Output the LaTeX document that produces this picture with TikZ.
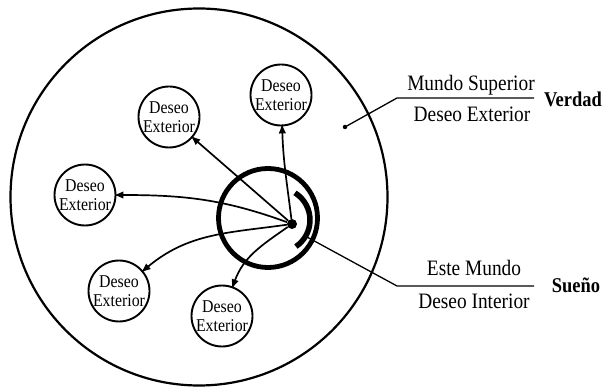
\documentclass[tikz,border=0pt]{standalone}
\usepackage{fontspec}
\setmainfont{Liberation Serif}[FakeStretch=0.88]
\usetikzlibrary{arrows.meta}
\begin{document}
\begin{tikzpicture}[x=1pt,y=1pt,
  desire/.style={circle, draw, line width=1.9pt, minimum size=61pt, inner sep=0pt, align=center, font=\fontsize{18}{19}\selectfont},
  arr/.style={line width=1.7pt, -{Latex[length=10pt,width=7.5pt]}, shorten >=-3pt},
  thin/.style={line width=1.3pt},
  lbl/.style={font=\fontsize{22}{24}\selectfont, anchor=base, inner sep=0pt},
  blbl/.style={font=\bfseries\fontsize{21}{24}\selectfont, anchor=base, inner sep=0pt}]
\useasboundingbox (0,0) rectangle (607,-387);
% outer world
\node[circle, draw, line width=2.2pt, minimum size=377pt, inner sep=0pt] (world) at (199,-197) {};
% inner self
\node[circle, draw, line width=4.8pt, minimum size=99pt, inner sep=0pt] (self) at (268,-218) {};
\node[circle, fill, minimum size=10pt, inner sep=0pt] (core) at (292,-224) {};
\coordinate (bc) at (278,-220);
\draw[line width=5.5pt] ([shift={(58:32)}]bc) arc (58:-56:32);
% desires
\node[desire] (d1) at (281,-95) {Deseo\\Exterior};
\node[desire] (d2) at (169,-117) {Deseo\\Exterior};
\node[desire] (d3) at (85,-195) {Deseo\\Exterior};
\node[desire] (d4) at (119,-291) {Deseo\\Exterior};
\node[desire] (d5) at (222,-316) {Deseo\\Exterior};
% arrows
\draw[arr] (core) to[out=97,in=-88] (d1);
\draw[arr] (core) -- (d2);
\draw[arr] (core) to[out=160,in=0] (d3);
\draw[arr] (core) to[out=188,in=40] (d4);
\draw[arr] (core) to[out=215,in=70] (d5);
% upper label
\node[circle, fill, minimum size=4.5pt, inner sep=0pt] (pt) at (345,-127) {};
\coordinate (kneeA) at (397,-98);
\coordinate (endA) at (534,-98);
\draw[thin] (pt.center) -- (kneeA) -- (endA);
\node[lbl] (ms) at (471,-91) {Mundo Superior};
\node[lbl] (de) at (472,-122) {Deseo Exterior};
\node[blbl] (verdad) at (573,-107) {Verdad};
% lower label
\coordinate (foot) at (307,-237);
\coordinate (kneeB) at (397,-286);
\coordinate (endB) at (534,-286);
\draw[thin] (foot) -- (kneeB) -- (endB);
\node[lbl] (em) at (474,-275) {Este Mundo};
\node[lbl] (di) at (474,-308) {Deseo Interior};
\node[blbl] (sueno) at (576,-292) {Sueño};
\end{tikzpicture}
\end{document}
